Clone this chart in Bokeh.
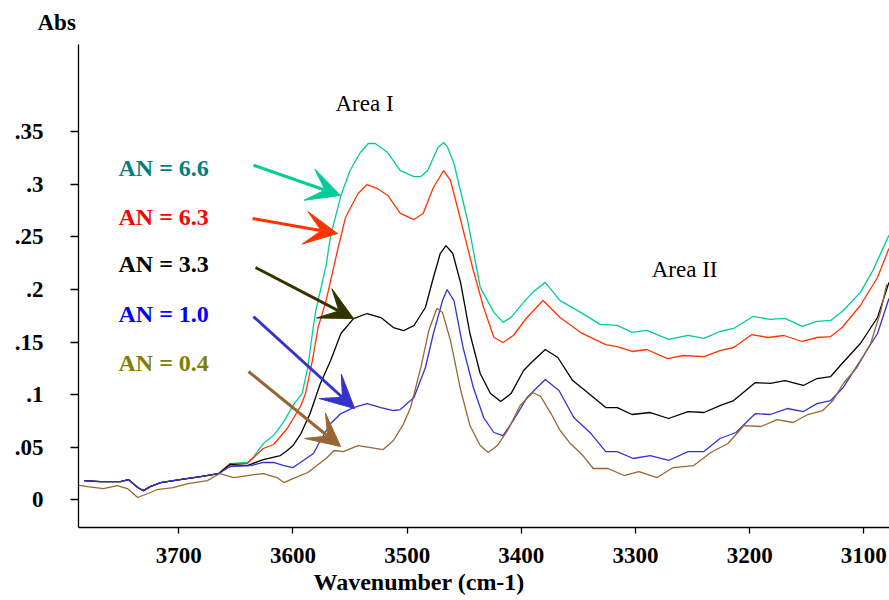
from bokeh.plotting import figure
from bokeh.models import Range1d, FixedTicker, Arrow, VeeHead, Label, ColumnDataSource, Title
from bokeh.embed import file_html
from bokeh.resources import INLINE
from bokeh.core.properties import value

# ---------------- data (wavenumber cm-1, absorbance) ----------------
wn_66 = [3783, 3769, 3751, 3744, 3736, 3731, 3725, 3716, 3699, 3681, 3665, 3655, 3640, 3635, 3626, 3617, 3608, 3600,
         3592, 3587, 3583, 3580, 3578, 3571, 3567, 3558, 3550, 3541, 3534, 3528, 3517, 3506, 3494, 3488, 3482, 3473,
         3468, 3465, 3459, 3447, 3436, 3424, 3416, 3409, 3398, 3390, 3379, 3366, 3348, 3331, 3316, 3303, 3290, 3271,
         3254, 3240, 3226, 3214, 3197, 3182, 3169, 3154, 3141, 3129, 3118, 3103, 3092, 3078]
abs_66 = [.0183, .0174, .0174, .0193, .0117, .0088, .0126, .0164, .0193, .0221, .0250, .0345, .0355, .0402, .0535,
          .0611, .0744, .0897, .1010, .1258, .1581, .1799, .1894, .2227, .2512, .2892, .3130, .3301, .3387, .3387,
          .3301, .3130, .3073, .3073, .3130, .3350, .3396, .3360, .3197, .2655, .2020, .1782, .1687, .1734, .1877,
          .1972, .2067, .1894, .1782, .1668, .1658, .1591, .1610, .1525, .1563, .1534, .1600, .1629, .1743, .1715,
          .1724, .1648, .1696, .1705, .1800, .1972, .2181, .2514]

wn_63 = [3783, 3769, 3751, 3744, 3736, 3731, 3725, 3716, 3699, 3681, 3665, 3655, 3640, 3626, 3617, 3605, 3593, 3589,
         3583, 3578, 3571, 3561, 3554, 3543, 3535, 3526, 3517, 3506, 3494, 3486, 3477, 3468, 3462, 3453, 3442, 3433,
         3424, 3416, 3407, 3395, 3381, 3366, 3348, 3326, 3316, 3303, 3290, 3272, 3258, 3240, 3226, 3214, 3198, 3184,
         3170, 3154, 3141, 3129, 3119, 3103, 3088, 3078]
abs_63 = [.0183, .0174, .0174, .0193, .0117, .0088, .0126, .0164, .0193, .0221, .0250, .0345, .0345, .0488, .0526,
          .0678, .0896, .1010, .1324, .1638, .1894, .2370, .2683, .2912, .2997, .2959, .2893, .2722, .2664, .2722,
          .2969, .3130, .3035, .2655, .2180, .1828, .1543, .1495, .1562, .1733, .1894, .1733, .1590, .1476, .1457,
          .1410, .1429, .1343, .1372, .1362, .1419, .1448, .1571, .1543, .1562, .1505, .1543, .1552, .1638, .1847,
          .2113, .2389]

wn_33 = [3783, 3769, 3751, 3744, 3736, 3731, 3725, 3716, 3699, 3681, 3665, 3655, 3640, 3626, 3611, 3605, 3600, 3593,
         3585, 3576, 3567, 3558, 3547, 3535, 3523, 3512, 3503, 3494, 3484, 3477, 3471, 3466, 3460, 3453, 3445, 3436,
         3427, 3418, 3409, 3398, 3392, 3379, 3368, 3355, 3342, 3326, 3316, 3303, 3287, 3271, 3254, 3240, 3226, 3214,
         3195, 3182, 3169, 3153, 3141, 3129, 3119, 3103, 3088, 3078]
abs_33 = [.0183, .0174, .0174, .0193, .0117, .0088, .0126, .0164, .0193, .0221, .0250, .0336, .0326, .0383, .0421,
          .0469, .0516, .0630, .0820, .1105, .1324, .1581, .1723, .1771, .1733, .1638, .1609, .1657, .1828, .2113,
          .2341, .2417, .2341, .2056, .1581, .1201, .1010, .0934, .1010, .1229, .1296, .1429, .1353, .1134, .1020,
          .0877, .0877, .0811, .0830, .0773, .0839, .0830, .0896, .0944, .1115, .1106, .1134, .1087, .1153, .1172,
          .1296, .1486, .1733, .2066]

wn_10 = [3783, 3769, 3751, 3744, 3736, 3731, 3725, 3716, 3699, 3681, 3665, 3655, 3637, 3626, 3617, 3608, 3600, 3591,
         3582, 3576, 3567, 3558, 3547, 3535, 3523, 3512, 3506, 3494, 3484, 3477, 3469, 3465, 3459, 3451, 3442, 3433,
         3424, 3416, 3407, 3395, 3379, 3367, 3354, 3339, 3326, 3316, 3302, 3287, 3271, 3254, 3240, 3226, 3212, 3195,
         3182, 3167, 3153, 3141, 3129, 3118, 3103, 3088, 3078]
abs_10 = [.0183, .0174, .0174, .0193, .0117, .0088, .0126, .0164, .0193, .0221, .0250, .0317, .0326, .0355, .0355,
          .0326, .0307, .0374, .0440, .0564, .0725, .0820, .0877, .0915, .0877, .0849, .0858, .0972, .1258, .1581,
          .1894, .1999, .1894, .1447, .1068, .0782, .0640, .0611, .0754, .0972, .1144, .1039, .0782, .0630, .0459,
          .0459, .0393, .0421, .0374, .0459, .0459, .0583, .0640, .0820, .0811, .0868, .0839, .0915, .0944, .1068,
          .1324, .1581, .1913]

wn_04 = [3791, 3780, 3766, 3754, 3745, 3736, 3727, 3719, 3705, 3692, 3675, 3664, 3652, 3640, 3626, 3614, 3608, 3600,
         3587, 3579, 3570, 3564, 3556, 3543, 3532, 3521, 3512, 3503, 3497, 3488, 3481, 3474, 3469, 3462, 3453, 3445,
         3436, 3429, 3421, 3412, 3401, 3390, 3383, 3374, 3366, 3357, 3346, 3337, 3324, 3310, 3297, 3281, 3267, 3249,
         3234, 3219, 3205, 3190, 3176, 3162, 3149, 3136, 3127, 3118, 3106, 3094, 3085, 3080]
abs_04 = [.0145, .0126, .0107, .0136, .0107, .0022, .0060, .0098, .0117, .0155, .0183, .0250, .0212, .0231, .0250,
          .0212, .0164, .0202, .0260, .0326, .0402, .0469, .0459, .0516, .0497, .0478, .0564, .0725, .0877, .1258,
          .1609, .1818, .1780, .1514, .1039, .0706, .0516, .0450, .0516, .0659, .0896, .1020, .0982, .0820, .0659,
          .0535, .0421, .0298, .0298, .0231, .0269, .0212, .0307, .0326, .0450, .0535, .0706, .0697, .0763, .0735,
          .0811, .0849, .0944, .1106, .1258, .1486, .1800, .2047]

series_names = ["AN = 6.6", "AN = 6.3", "AN = 3.3", "AN = 1.0", "AN = 0.4"]

x_ticks = [3700, 3600, 3500, 3400, 3300, 3200, 3100]
y_ticks = [0, 0.05, 0.1, 0.15, 0.2, 0.25, 0.3, 0.35]
y_tick_labels = ["0", ".05", ".1", ".15", ".2", ".25", ".3", ".35"]

# ---------------- styling ----------------
line_colors = ["#00CC99", "#FF3300", "#000000", "#3333CC", "#996633"]
text_colors = ["#008080", "#FF0000", "#000000", "#0000FF", "#808000"]
arrow_colors = ["#00CC99", "#FF3300", "#333300", "#3333CC", "#996633"]

# annotation positions (data units)
label_x = 3752.8
label_y = [0.3154, 0.2684, 0.2237, 0.1762, 0.1296]
arrow_x0 = [3634.6, 3635.4, 3632.8, 3634.6, 3639.0]
arrow_y0 = [0.3180, 0.2674, 0.2208, 0.1742, 0.1220]
arrow_x1 = [3558.3, 3561.0, 3546.9, 3546.0, 3558.3]
arrow_y1 = [0.2893, 0.2531, 0.1723, 0.0868, 0.0507]

FONT = "Liberation Serif"

p = figure(width=889, height=600, output_backend="svg", toolbar_location=None,
           x_range=Range1d(3787.85, 3077.5), y_range=Range1d(-0.0263, 0.4328),
           min_border_left=78, min_border_right=0, min_border_top=44, min_border_bottom=73)
p.outline_line_color = None
p.grid.visible = False
p.background_fill_color = "white"
p.border_fill_color = "white"

for ax in (p.xaxis[0], p.yaxis[0]):
    ax.axis_line_color = "black"
    ax.axis_line_width = 1.3
    ax.major_tick_line_color = "black"
    ax.major_tick_line_width = 1.3
    ax.major_tick_in = 0
    ax.minor_tick_line_color = None
    ax.major_label_text_font = FONT
    ax.major_label_text_font_style = "bold"
    ax.major_label_text_font_size = "23px"
    ax.major_label_text_color = "black"

p.xaxis.ticker = FixedTicker(ticks=x_ticks)
p.xaxis.major_tick_out = 6
p.xaxis.major_label_standoff = 14
p.yaxis.ticker = FixedTicker(ticks=y_ticks)
p.yaxis.major_label_overrides = {t: l for t, l in zip(y_ticks, y_tick_labels)}
p.yaxis.major_tick_out = 8
p.yaxis.major_label_standoff = 27

all_wn = [wn_66, wn_63, wn_33, wn_10, wn_04]
all_abs = [abs_66, abs_63, abs_33, abs_10, abs_04]
for wn, ab, c in zip(all_wn, all_abs, line_colors):
    p.line(wn, ab, line_color=c, line_width=1.3)

# series labels
src = ColumnDataSource(dict(x=[label_x] * 5, y=label_y, t=series_names, c=text_colors))
p.text(x="x", y="y", text="t", text_color="c", source=src, text_font=value(FONT),
       text_font_style="bold", text_font_size="24px", text_align="left", text_baseline="middle")

for x0, y0, x1, y1, c in zip(arrow_x0, arrow_y0, arrow_x1, arrow_y1, arrow_colors):
    p.add_layout(Arrow(end=VeeHead(size=33, fill_color=c, line_color=c, line_width=1),
                       x_start=x0, y_start=y0, x_end=x1, y_end=y1,
                       line_color=c, line_width=3))

p.add_layout(Label(x=3537.3, y=0.3767, text="Area I", text_font=FONT, text_font_size="23px",
                   text_align="center", text_baseline="middle", text_color="black"))
p.add_layout(Label(x=3257.0, y=0.2193, text="Area II", text_font=FONT, text_font_size="23px",
                   text_align="center", text_baseline="middle", text_color="black"))

# axis titles placed in side panels
p.add_layout(Title(text="Abs", align="left", offset=-41, standoff=15, vertical_align="top",
                   text_font=FONT, text_font_style="bold", text_font_size="23px",
                   text_color="black"), "above")
p.add_layout(Title(text="Wavenumber (cm-1)", align="left", offset=235, standoff=3, vertical_align="bottom",
                   text_font=FONT, text_font_style="bold", text_font_size="24px",
                   text_color="black"), "below")

open("out.html", "w").write(file_html(p, INLINE))
